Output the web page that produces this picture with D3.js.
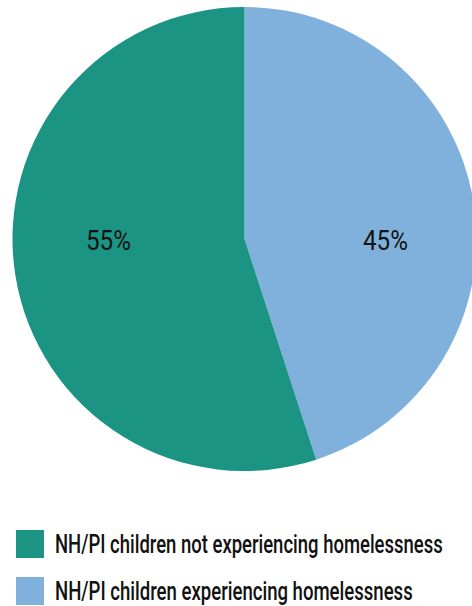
<!DOCTYPE html>
<html>
<head>
<meta charset="utf-8">
<script src="https://cdn.jsdelivr.net/npm/d3@7"></script>
<style>
  html, body { margin: 0; padding: 0; background: #ffffff; }
  svg { display: block; }
</style>
</head>
<body>
<svg id="chart" width="472" height="606"></svg>
<script>
// Share of NH/PI children by homelessness status
const categories = [
  "NH/PI children experiencing homelessness",
  "NH/PI children not experiencing homelessness"
];
const values = [45, 55];
const valueLabels = ["45%", "55%"];
const colors = ["#7fb1dc", "#1c9484"];
const legendOrder = [1, 0];

const svg = d3.select("#chart");
const cx = 244.5, cy = 239, radius = 232;
const fontFamily = "Roboto, 'Liberation Sans', sans-serif";

// Squeeze a text horizontally into a condensed look of the given width
function condense(sel, width, anchorX, anchor) {
  sel.each(function () {
    const natural = this.getComputedTextLength();
    const w = typeof width === "function" ? width(d3.select(this).datum()) : width;
    const k = w / natural;
    const ax = typeof anchorX === "function" ? anchorX(d3.select(this).datum()) : anchorX;
    const y = +this.getAttribute("y");
    const left = anchor === "middle" ? ax - w / 2 : ax;
    d3.select(this)
      .attr("x", 0)
      .attr("y", 0)
      .attr("text-anchor", "start")
      .attr("transform", `translate(${left},${y}) scale(${k},1)`);
  });
}

const pie = d3.pie().sort(null).value(d => d.value);
const arcs = pie(categories.map((c, i) => ({ name: c, value: values[i], label: valueLabels[i], color: colors[i] })));
const arc = d3.arc().innerRadius(0).outerRadius(radius);

const g = svg.append("g").attr("transform", `translate(${cx},${cy})`);

g.selectAll("path.slice")
  .data(arcs)
  .join("path")
  .attr("class", "slice")
  .attr("d", arc)
  .attr("fill", d => d.data.color);

g.selectAll("text.value")
  .data(arcs)
  .join("text")
  .attr("class", "value")
  .attr("y", 11)
  .attr("font-family", fontFamily)
  .attr("font-size", 28)
  .attr("fill", "#141414")
  .text(d => d.data.label)
  .call(condense, 45, d => (d.index === 0 ? 141 : -136), "middle");

// Legend
const legend = svg.append("g").attr("transform", "translate(16,530)");
const items = legend.selectAll("g.item")
  .data(legendOrder)
  .join("g")
  .attr("class", "item")
  .attr("transform", (d, i) => `translate(0,${i * 47})`);

items.append("rect")
  .attr("width", 28)
  .attr("height", 28)
  .attr("fill", d => colors[d]);

items.append("text")
  .attr("y", 22.5)
  .attr("font-family", fontFamily)
  .attr("font-size", 26)
  .attr("font-weight", 500)
  .attr("fill", "#111111")
  .text(d => categories[d])
  .call(condense, d => (d === 1 ? 388 : 358), 39, "start");
</script>
</body>
</html>
